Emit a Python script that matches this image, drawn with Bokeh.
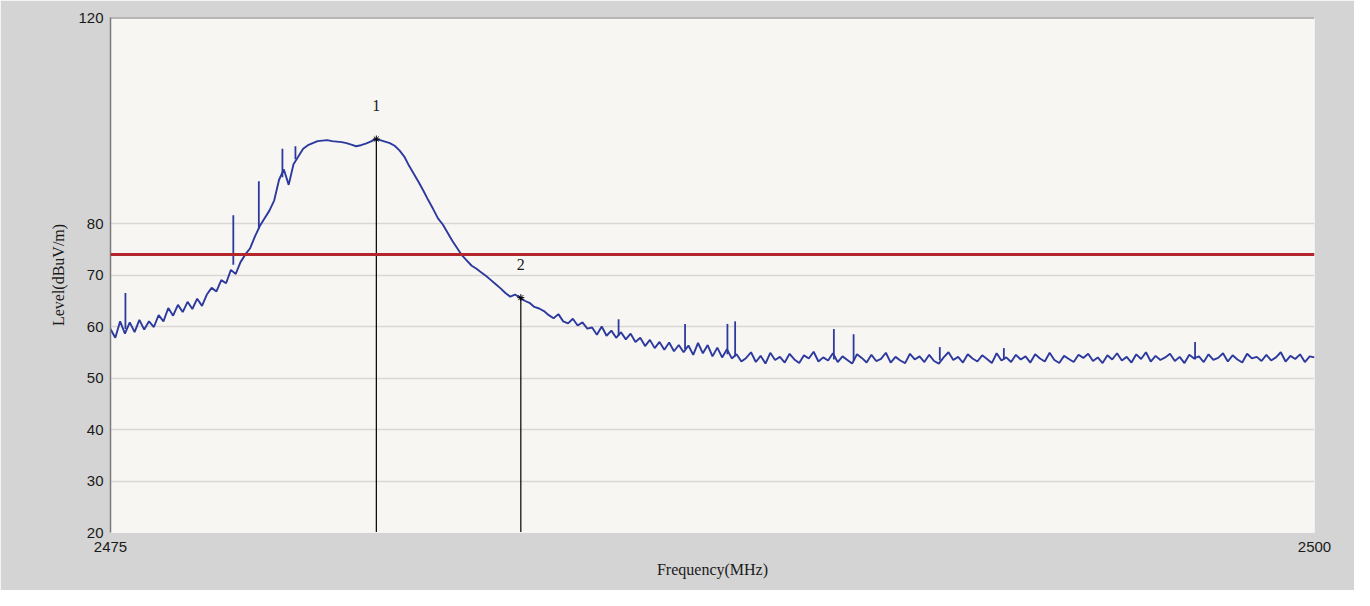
from bokeh.plotting import figure
from bokeh.embed import file_html
from bokeh.resources import INLINE
from bokeh.models import FixedTicker, Span, ColumnDataSource
from bokeh.core.properties import value

# ---- data ----
f_start = 2475.0
f_step = 0.1
level = [
    59.5, 57.8, 61.0, 58.6, 60.8, 58.9, 61.3, 59.4, 61.0, 59.9,   # 2475
    62.2, 61.0, 63.6, 62.1, 64.2, 62.8, 64.8, 63.4, 65.4, 64.0,   # 2476
    66.2, 67.5, 66.8, 69.0, 68.4, 71.0, 70.2, 72.5, 74.0, 75.2,   # 2477
    77.5, 79.5, 81.0, 82.5, 84.5, 88.5, 90.5, 87.5, 91.5, 93.0,   # 2478
    94.5, 95.2, 95.6, 96.0, 96.1, 96.2, 96.0, 95.9, 95.8, 95.6,   # 2479
    95.3, 95.0, 95.2, 95.5, 95.9, 96.4, 96.2, 95.9, 95.6, 95.1,   # 2480
    94.2, 93.0, 91.2, 89.6, 88.0, 86.3, 84.5, 82.8, 81.0, 79.8,   # 2481
    78.2, 76.6, 75.2, 73.8, 72.8, 71.8, 71.2, 70.5, 69.8, 69.0,   # 2482
    68.2, 67.4, 66.5, 65.8, 66.2, 65.6, 65.0, 64.6, 63.8, 63.5,   # 2483
    63.0, 62.2, 61.6, 62.4, 61.0, 60.6, 61.5, 60.2, 60.8, 59.6,   # 2484
    59.8, 58.4, 60.0, 58.2, 59.2, 57.8, 58.9, 57.5, 58.6, 57.0,   # 2485
    57.8, 56.2, 57.4, 55.8, 57.0, 55.5, 56.9, 55.2, 56.4, 55.0,   # 2486
    56.3, 54.5, 56.8, 54.8, 56.4, 54.2, 55.9, 54.0, 55.6, 53.8,   # 2487
    54.6, 53.2, 53.9, 55.0, 53.1, 54.3, 52.8, 54.9, 53.5, 54.1,   # 2488
    53.0, 54.7, 53.6, 52.9, 54.4, 53.8, 55.1, 53.2, 54.0, 53.4,   # 2489
    54.8, 53.1, 54.2, 53.5, 52.8, 54.6, 53.9, 53.0, 54.5, 53.3,   # 2490
    53.7, 54.9, 53.0, 54.1, 53.4, 52.9, 54.7, 53.6, 54.2, 53.1,   # 2491
    54.5, 53.3, 52.8, 54.0, 55.0, 53.5, 54.1, 53.0, 54.6, 53.8,   # 2492
    53.2, 54.4, 53.7, 52.9, 54.8, 53.4, 54.0, 53.1, 54.5, 53.6,   # 2493
    54.2, 53.0, 54.6, 53.8, 53.2, 54.9, 53.5, 52.9, 54.3, 53.7,   # 2494
    53.1, 54.5, 53.9, 54.7, 53.3, 54.0, 52.9, 54.4, 53.6, 54.8,   # 2495
    53.4, 54.1, 53.0, 54.6, 53.7, 55.0, 53.2, 54.3, 53.5, 54.0,   # 2496
    54.7, 53.3, 54.1, 52.9, 54.5, 53.8, 54.2, 53.1, 54.6, 53.5,   # 2497
    53.9, 54.8, 53.2, 54.4, 53.6, 53.0, 54.7, 53.8, 54.1, 53.3,   # 2498
    54.5, 53.4, 54.0, 55.0, 53.2, 54.3, 53.7, 54.6, 53.1, 54.2,   # 2499
    54.0,                                                         # 2500
]
freq = [round(f_start + i * f_step, 2) for i in range(len(level))]

spike_freq = [2475.31, 2477.55, 2478.08, 2478.57, 2478.84, 2485.55, 2486.93,
              2487.81, 2487.97, 2490.02, 2490.43, 2492.22, 2493.55, 2497.52]
spike_top = [66.5, 81.6, 88.2, 94.5, 95.0, 61.4, 60.5, 60.5, 61.0, 59.5, 58.5, 56.0, 55.8, 57.0]
spike_base = [59.5, 72.0, 79.0, 89.0, 92.5, 58.2, 55.6, 54.6, 54.2, 53.6, 53.4, 53.4, 53.6, 53.6]

limit_level = 74.0

marker_freq = [2480.52, 2483.52]
marker_level = [96.4, 65.6]
marker_label = ["1", "2"]
marker_floor = [20, 20]

y_ticks = [20, 30, 40, 50, 60, 70, 80, 120]
x_ticks = [2475, 2500]

# ---- figure ----
BG = "#d4d4d4"
p = figure(width=1354, height=590, x_range=(2475, 2500), y_range=(20, 120),
           output_backend="svg", toolbar_location=None,
           min_border_left=110, min_border_right=40, min_border_top=17, min_border_bottom=58,
           background_fill_color="#f8f6f3", border_fill_color=BG,
           outline_line_color=None)

p.xgrid.grid_line_color = None
p.ygrid.ticker = FixedTicker(ticks=y_ticks)
p.ygrid.grid_line_color = "#d9d7d3"
p.ygrid.grid_line_width = 1.5

for ax in (p.xaxis[0], p.yaxis[0]):
    ax.major_tick_in = 0
    ax.major_tick_out = 0
    ax.minor_tick_line_color = None
    ax.major_label_text_font = "Liberation Sans"
    ax.major_label_text_font_size = "15px"
    ax.major_label_text_color = "#1a1a1a"
    ax.axis_label_text_font = "Liberation Serif"
    ax.axis_label_text_font_size = "16px"
    ax.axis_label_text_font_style = "normal"
    ax.axis_label_text_color = "#1a1a1a"

p.xaxis.ticker = FixedTicker(ticks=x_ticks)
p.yaxis.ticker = FixedTicker(ticks=y_ticks)
p.xaxis.axis_label = "Frequency(MHz)"
p.yaxis.axis_label = "Level(dBuV/m)"
p.xaxis.major_label_standoff = 9
p.yaxis.major_label_standoff = 7
p.xaxis.axis_label_standoff = 6
p.yaxis.axis_label_standoff = 8
p.yaxis.axis_line_color = "#7a7a7a"
p.yaxis.axis_line_width = 1.5
p.xaxis.axis_line_color = "#f2f2f2"

p.add_layout(Span(location=120, dimension="width", line_color="#7a7a7a", line_width=2))

# limit line
p.add_layout(Span(location=limit_level, dimension="width", line_color="#b3262b", line_width=3))

# trace
TRACE = "#2c3a9e"
p.line(freq, level, line_color=TRACE, line_width=1.9)
p.segment(x0=spike_freq, y0=spike_base, x1=spike_freq, y1=spike_top,
          line_color=TRACE, line_width=1.8)

# markers
msrc = ColumnDataSource(dict(f=marker_freq, lv=marker_level, lab=marker_label, fl=marker_floor))
p.segment(x0="f", y0="lv", x1="f", y1="fl", source=msrc, line_color="black", line_width=1.2)
p.scatter(x="f", y="lv", source=msrc, marker="asterisk", size=7,
          line_color="black", line_width=1)
p.text(x="f", y="lv", text="lab", source=msrc, text_align="center", text_baseline="bottom",
       y_offset=-28, text_font=value("Liberation Serif"), text_font_size="16px",
       text_color="#1a1a1a")

open("out.html", "w").write(file_html(p, INLINE))
